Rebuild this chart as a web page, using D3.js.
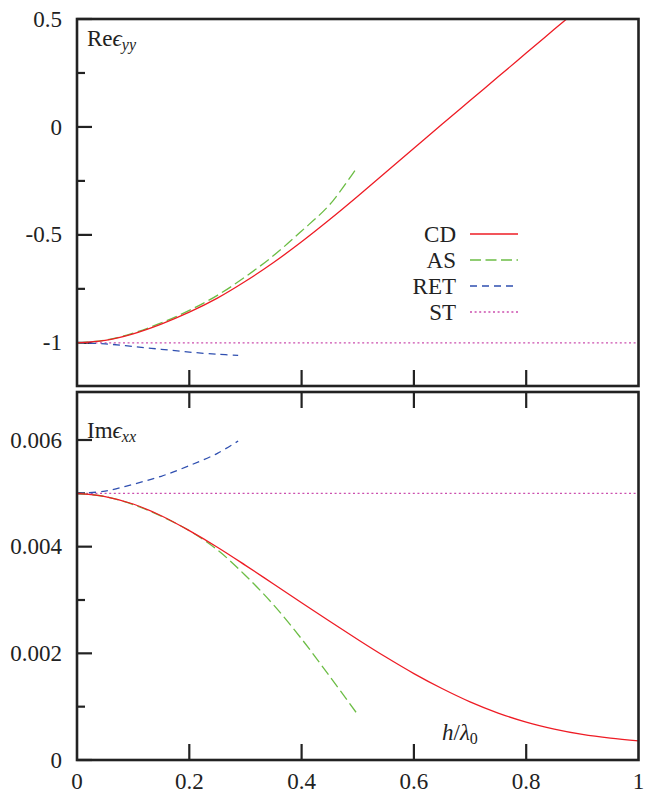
<!DOCTYPE html>
<html>
<head>
<meta charset="utf-8">
<script src="https://cdn.jsdelivr.net/npm/d3@7"></script>
<style>
  html, body { margin: 0; padding: 0; background: #fff; }
  svg { display: block; }
</style>
</head>
<body>
<script>
// h / lambda_0 sample points and permittivity values for each model
const hCD = [0, 0.05, 0.1, 0.15, 0.2, 0.25, 0.3, 0.35, 0.4, 0.45, 0.5, 0.55, 0.6, 0.65, 0.7, 0.75, 0.8, 0.85, 0.9, 0.95, 1.0];
const reCD = [-1, -0.989, -0.958, -0.913, -0.858, -0.793, -0.715, -0.628, -0.532, -0.429, -0.321, -0.21, -0.099, 0.012, 0.122, 0.232, 0.342, 0.452, 0.562];
const imCD = [0.005, 0.00494, 0.0048, 0.00458, 0.0043, 0.00399, 0.00365, 0.0033, 0.00295, 0.0026, 0.00226, 0.00193, 0.00162, 0.00134, 0.00109, 0.00088, 0.00071, 0.00058, 0.00048, 0.00041, 0.00036];

const hAS = [0, 0.05, 0.1, 0.15, 0.2, 0.25, 0.3, 0.35, 0.4, 0.45, 0.498];
const reAS = [-1, -0.988, -0.955, -0.908, -0.85, -0.78, -0.694, -0.596, -0.482, -0.36, -0.19];
const imAS = [0.005, 0.00494, 0.00479, 0.00457, 0.0043, 0.00394, 0.00346, 0.00291, 0.00227, 0.00157, 0.00088];

const hRET = [0, 0.05, 0.1, 0.15, 0.2, 0.25, 0.287];
const reRET = [-1, -1.005, -1.017, -1.03, -1.043, -1.053, -1.058];
const imRET = [0.005, 0.00504, 0.00517, 0.00532, 0.00552, 0.00575, 0.00598];

const hST = [0, 1];
const reST = [-1, -1];
const imST = [0.005, 0.005];

const seriesNames = ["CD", "AS", "RET", "ST"];
const xTicks = [0, 0.2, 0.4, 0.6, 0.8, 1];
const reTickLabels = [0.5, 0, -0.5, -1];
const reMinorTicks = [0.25, -0.25, -0.75];
const imTickLabels = [0, 0.002, 0.004, 0.006];
const imMinorTicks = [0.001, 0.003, 0.005];

const styles = {
  CD:  { color: "#ee1c25", dash: null },
  AS:  { color: "#6cbd45", dash: "11,4.5" },
  RET: { color: "#2f4fb0", dash: "7,5" },
  ST:  { color: "#cc4fae", dash: "2,2.6" }
};

const FONT = "Liberation Serif";
const W = 645, Hgt = 795;
const svg = d3.select("body").append("svg").attr("width", W).attr("height", Hgt)
  .attr("font-family", FONT);

const x = d3.scaleLinear().domain([0, 1]).range([77, 638.5]);
const yRe = d3.scaleLinear().domain([-1.2, 0.5]).range([386, 19]);
const yIm = d3.scaleLinear().domain([0, 0.0069]).range([760, 392]);

const fontSize = 23;

function zip(hs, vs) { return vs.map((v, i) => [hs[i], v]); }

function addText(parent) {
  return parent.append("text").attr("font-family", FONT).attr("fill", "#222");
}

function panel(id, y, curves, yLabels, yMinor, fmt, xTop, xBottomLabels) {
  const g = svg.append("g");
  const [y0, y1] = y.range();
  const clipId = "clip-" + id;
  svg.append("clipPath").attr("id", clipId)
    .append("rect").attr("x", x(0)).attr("y", y1).attr("width", x(1) - x(0)).attr("height", y0 - y1);

  // y ticks: long at labelled values, short at the midpoints
  const tickG = g.append("g").attr("stroke", "#222").attr("stroke-width", 2.2);
  yLabels.forEach(v => tickG.append("line").attr("x1", x(0)).attr("x2", x(0) + 15).attr("y1", y(v)).attr("y2", y(v)));
  yMinor.forEach(v => tickG.append("line").attr("x1", x(0)).attr("x2", x(0) + 8).attr("y1", y(v)).attr("y2", y(v)));
  // x ticks along the bottom (and top if asked)
  xTicks.slice(1, -1).forEach(v => {
    tickG.append("line").attr("x1", x(v)).attr("x2", x(v)).attr("y1", y0).attr("y2", y0 - 16);
    if (xTop) tickG.append("line").attr("x1", x(v)).attr("x2", x(v)).attr("y1", y1).attr("y2", y1 + 16);
  });

  yLabels.forEach(v => {
    addText(g).attr("x", 62).attr("y", y(v)).attr("dy", "0.33em")
      .attr("text-anchor", "end").attr("font-size", fontSize).text(fmt(v));
  });

  if (xBottomLabels) {
    xTicks.forEach(v => {
      addText(g).attr("x", x(v)).attr("y", 789)
        .attr("text-anchor", "middle").attr("font-size", fontSize).text(String(v));
    });
  }

  const line = d3.line().x(d => x(d[0])).y(d => y(d[1])).curve(d3.curveCatmullRom);
  const cg = g.append("g").attr("clip-path", `url(#${clipId})`);
  curves.forEach(c => {
    const st = styles[c.name];
    cg.append("path").datum(c.data)
      .attr("d", line).attr("fill", "none")
      .attr("stroke", st.color).attr("stroke-width", 1.3)
      .attr("stroke-dasharray", st.dash);
  });

  // frame
  g.append("rect").attr("x", x(0)).attr("y", y1).attr("width", x(1) - x(0)).attr("height", y0 - y1)
    .attr("fill", "none").attr("stroke", "#222").attr("stroke-width", 2.6);
  return g;
}

panel("re", yRe, [
  { name: "ST", data: zip(hST, reST) },
  { name: "RET", data: zip(hRET, reRET) },
  { name: "AS", data: zip(hAS, reAS) },
  { name: "CD", data: zip(hCD.slice(0, reCD.length), reCD) }
], reTickLabels, reMinorTicks, v => String(v), false, false);

panel("im", yIm, [
  { name: "ST", data: zip(hST, imST) },
  { name: "RET", data: zip(hRET, imRET) },
  { name: "AS", data: zip(hAS, imAS) },
  { name: "CD", data: zip(hCD, imCD) }
], imTickLabels, imMinorTicks, v => v === 0 ? "0" : d3.format(".3f")(v), true, true);

// panel titles
function title(yPos, parts) {
  const t = addText(svg).attr("x", 87).attr("y", yPos).attr("font-size", fontSize);
  t.append("tspan").text(parts[0]);
  t.append("tspan").attr("font-style", "italic").text("\u03F5");
  t.append("tspan").attr("font-style", "italic").attr("font-size", 16).attr("dy", 4).text(parts[1]);
}
title(46, ["Re", "yy"]);
title(438, ["Im", "xx"]);

// axis variable
const xl = addText(svg).attr("x", 442).attr("y", 740).attr("font-size", fontSize);
xl.append("tspan").attr("font-style", "italic").text("h");
xl.append("tspan").text("/");
xl.append("tspan").attr("font-style", "italic").text("\u03BB");
xl.append("tspan").attr("font-size", 16).attr("dy", 4).text("0");

// legend
const lg = svg.append("g");
seriesNames.forEach((n, i) => {
  const yy = 234 + i * 26;
  addText(lg).attr("x", 456).attr("y", yy).attr("dy", "0.33em")
    .attr("text-anchor", "end").attr("font-size", fontSize).text(n);
  lg.append("line").attr("x1", 470).attr("x2", 518).attr("y1", yy).attr("y2", yy)
    .attr("stroke", styles[n].color).attr("stroke-width", 1.3)
    .attr("stroke-dasharray", styles[n].dash);
});
</script>
</body>
</html>
